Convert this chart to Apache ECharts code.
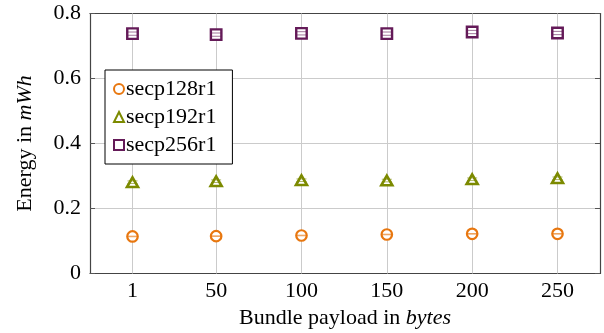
<!DOCTYPE html>
<html><head><meta charset="utf-8">
<script src="https://cdn.jsdelivr.net/npm/echarts@6/dist/echarts.min.js"></script>
<style>html,body{margin:0;padding:0;background:#fff}#c{width:604px;height:333px}</style>
</head><body><div id="c"></div>
<script>
const payloads = [1, 50, 100, 150, 200, 250];
const yTicks = [0, 0.2, 0.4, 0.6, 0.8];
const secp128 = [0.114, 0.115, 0.117, 0.120, 0.122, 0.122];
const secp192 = [0.281, 0.284, 0.287, 0.286, 0.290, 0.293];
const secp256 = [0.738, 0.735, 0.739, 0.738, 0.743, 0.740];
const err128 = [0.001, 0.001, 0.001, 0.001, 0.001, 0.001];
const err192 = [0.004, 0.004, 0.004, 0.004, 0.004, 0.004];
const err256 = [0.005, 0.005, 0.005, 0.005, 0.005, 0.005];
const names = ['secp128r1', 'secp192r1', 'secp256r1'];

const FONT = 'Liberation Serif';
const FS = 22;
const C_OR = '#e8770f', C_OL = '#7c8a00', C_PU = '#641a58';
const GRID_C = '#cbcbcb';
const tick = {show:true, inside:true, length:5, lineStyle:{color:'#555', width:1}, customValues: payloads};
const axLine = {show:true, onZero:false, lineStyle:{color:'#444', width:1.2}};

function pairs(vals){ return payloads.map((x,i)=>[x, vals[i]]); }
function errSeries(vals, errs, color){
  return {
    type:'custom', z:5, silent:true,
    data: payloads.map((x,i)=>[x, vals[i], errs[i]]),
    renderItem:(params, api)=>{
      const x = api.value(0), y = api.value(1), e = api.value(2);
      const top = api.coord([x, y+e]), bot = api.coord([x, y-e]);
      const hw = 5;
      const st = {stroke: color, lineWidth: 1, opacity: 0.6};
      return {type:'group', children:[
        {type:'line', shape:{x1:top[0]-hw, y1:top[1], x2:top[0]+hw, y2:top[1]}, style:st},
        {type:'line', shape:{x1:bot[0]-hw, y1:bot[1], x2:bot[0]+hw, y2:bot[1]}, style:st}
      ]};
    }
  };
}

const chart = echarts.init(document.getElementById('c'), null, {renderer:'canvas'});
chart.setOption({
  animation:false,
  textStyle:{fontFamily:FONT},
  grid:{left:90, top:13.5, width:510, height:260, show:false, containLabel:false, outerBoundsMode:'none'},
  legend:{
    orient:'vertical', left:105, top:70, data:names,
    backgroundColor:'#fff', borderColor:'#000', borderWidth:1, borderRadius:0,
    padding:[8,16,8,8], itemGap:6, itemWidth:10, itemHeight:10,
    textStyle:{fontFamily:FONT, fontSize:FS, color:'#000', padding:[0,0,0,-3]}
  },
  xAxis:[{
    type:'value', min:-23.9, max:274.9, position:'bottom',
    axisLine:axLine, axisTick:tick,
    axisLabel:{customValues: payloads, color:'#000', fontFamily:FONT, fontSize:FS, margin:7},
    splitLine:{show:false},
    name:'Bundle payload in {i|bytes}', nameLocation:'middle', nameGap:33,
    nameTextStyle:{color:'#000', fontFamily:FONT, fontSize:FS, rich:{i:{fontStyle:'italic', fontFamily:FONT, fontSize:FS, color:'#000'}}}
  },{
    type:'value', min:-23.9, max:274.9, position:'top',
    axisLine:axLine, axisTick:tick, axisLabel:{show:false, customValues: payloads}, splitLine:{show:false}
  }],
  yAxis:[{
    type:'value', min:0, max:0.8, interval:0.2, position:'left',
    axisLine:axLine, axisTick:{show:true, inside:true, length:5, lineStyle:{color:'#555'}},
    axisLabel:{color:'#000', fontFamily:FONT, fontSize:FS, margin:9, formatter:v=> v===0 ? '0' : v.toFixed(1)},
    splitLine:{show:true, lineStyle:{color:GRID_C, width:1}},
    name:'Energy in {i|mWh}', nameLocation:'middle', nameGap:54,
    nameTextStyle:{color:'#000', fontFamily:FONT, fontSize:FS, rich:{i:{fontStyle:'italic', fontFamily:FONT, fontSize:FS, color:'#000'}}}
  },{
    type:'value', min:0, max:0.8, interval:0.2, position:'right',
    axisLine:axLine, axisTick:{show:true, inside:true, length:5, lineStyle:{color:'#555'}},
    axisLabel:{show:false}, splitLine:{show:false}
  }],
  series:[
    {name:names[0], type:'scatter', data:pairs(secp128), symbol:'circle', symbolSize:10.5, z:4,
     itemStyle:{color:'#fff', borderColor:C_OR, borderWidth:2.2, opacity:1},
     markLine:{silent:true, symbol:'none', z:1, label:{show:false},
       lineStyle:{color:GRID_C, width:1, type:'solid'},
       data: payloads.map(x=>({xAxis:x}))}},
    {name:names[1], type:'scatter', data:pairs(secp192), symbol:'triangle', symbolSize:[11,9.5], z:4,
     itemStyle:{color:'#fff', borderColor:C_OL, borderWidth:2.6, opacity:1}},
    {name:names[2], type:'scatter', data:pairs(secp256), symbol:'rect', symbolSize:10.5, z:4,
     itemStyle:{color:'#fff', borderColor:C_PU, borderWidth:2.4, opacity:1}},
    errSeries(secp128, err128, C_OR),
    errSeries(secp192, err192, C_OL),
    errSeries(secp256, err256, C_PU)
  ]
});
</script></body></html>
